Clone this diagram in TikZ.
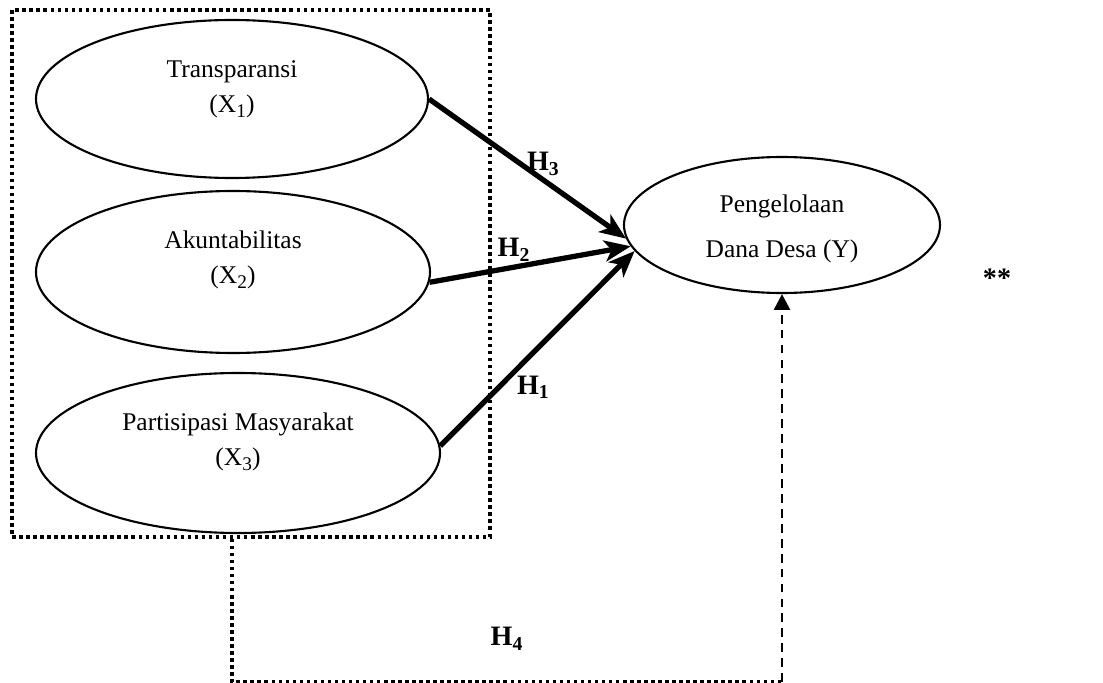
\documentclass[tikz,border=0pt]{standalone}
\usepackage{fontspec}
\setmainfont{Liberation Serif}
\usepackage{tikz}
\usetikzlibrary{shapes.geometric}
\usetikzlibrary{arrows.meta}
\usetikzlibrary{positioning}
\newcommand{\sbs}[1]{\raisebox{-0.45ex}{\fontsize{11}{11}\selectfont #1}}
\tikzset{
    varnode/.style = {ellipse, draw=black, line width=1.2pt, inner sep=0pt},
    txt/.style = {align=center, font=\fontsize{14.5}{19.8}\selectfont},
    hyp/.style = {font=\fontsize{16}{18}\selectfont\bfseries, inner sep=1pt},
}

\begin{document}
\begin{tikzpicture}[
	thick,
	font=\fontsize{14.5}{19.8}\selectfont
]
\tikzset{
    edgeh/.style = {line width=3pt, -{Stealth[length=15pt,width=12pt,inset=4pt]}},
    edged/.style = {line width=2pt, dash pattern=on 2pt off 2pt},
    edgek/.style = {line width=1.6pt, dash pattern=on 5pt off 3.5pt, -{Triangle[length=9pt,width=9pt]}},
}
\useasboundingbox (0,0) rectangle (22.06,-13.66);
\node[draw, edged, minimum width=9.56cm, minimum height=10.54cm] at (5.02,-5.47) (box) {};
\node[varnode, minimum width=7.84cm, minimum height=3.16cm] at (4.64,-1.98) (x1) {};
\node[varnode, minimum width=7.88cm, minimum height=3.24cm] at (4.66,-5.44) (x2) {};
\node[varnode, minimum width=8.08cm, minimum height=3.20cm] at (4.76,-9.06) (x3) {};
\node[varnode, minimum width=6.32cm, minimum height=2.72cm] at (15.64,-4.50) (y) {};
%
\node[txt, yshift=0.19cm] at (x1) (t1) {Transparansi\\(X\sbs{1})};
\node[txt, yshift=0.25cm] at (x2) (t2) {Akuntabilitas\\(X\sbs{2})};
\node[txt, yshift=0.23cm] at (x3) (t3) {Partisipasi Masyarakat\\(X\sbs{3})};
\node[txt, yshift=-0.08cm] at (y) (ty) {Pengelolaan\\[6pt]Dana Desa (Y)};
\node[hyp] at (19.94,-5.56) (stars) {**};
%
\draw[edgeh] (x1.east) -- (y.185) node[hyp, pos=0.58, above] {H\textsubscript{3}};
\draw[edgeh] (x2.-3) -- (y.188) node[hyp, pos=0.42, above=1pt] {H\textsubscript{2}};
\draw[edgeh] (x3.2) -- (y.190) node[hyp, pos=0.3, right=8pt] {H\textsubscript{1}};
%
\coordinate (turn) at (y.south |- 0,-13.64);
\draw[edged] (box.south -| x1) |- (turn) node[hyp, pos=0.75, above=16pt] {H\textsubscript{4}};
\draw[edgek] (turn) -- (y.south);
\end{tikzpicture}
\end{document}
